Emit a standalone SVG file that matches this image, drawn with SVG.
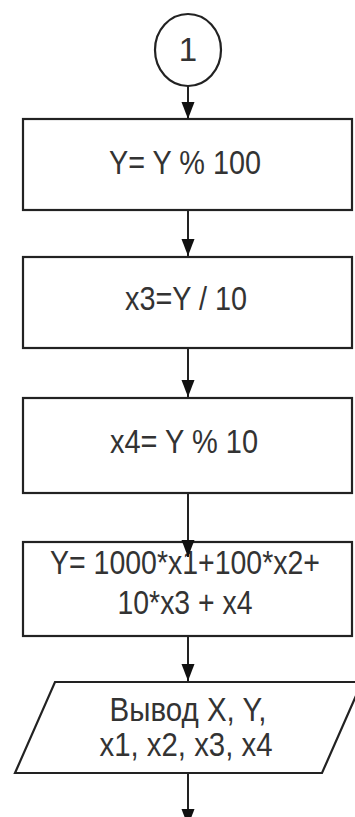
<svg xmlns="http://www.w3.org/2000/svg" width="355" height="817" viewBox="0 0 355 817">
<style>
.shape{fill:#fff;stroke:#222;stroke-width:2.2}
.conn{fill:none;stroke:#222;stroke-width:2}
text{font-family:"Liberation Sans",Arial,sans-serif;font-size:33px;fill:#333;text-anchor:middle}
</style>
<defs>
<marker id="arr" markerUnits="userSpaceOnUse" markerWidth="17" markerHeight="14" refX="17" refY="7" orient="auto">
<path d="M0,0.5 L17,7 L0,13.5 z" fill="#111"/>
</marker>
</defs>
<rect width="355" height="817" fill="#fff"/>
<g id="n0">
<ellipse class="shape" cx="188" cy="50" rx="33" ry="36"/>
<text x="188" y="61" font-size="34">1</text>
</g>
<g id="n1">
<rect class="shape" x="23" y="119" width="329" height="91"/>
<text x="185" y="174" font-size="34" textLength="152" lengthAdjust="spacingAndGlyphs">Y= Y % 100</text>
</g>
<g id="n2">
<rect class="shape" x="23" y="257" width="329" height="91"/>
<text x="186" y="310" textLength="122" lengthAdjust="spacingAndGlyphs">x3=Y / 10</text>
</g>
<g id="n3">
<rect class="shape" x="23" y="398" width="329" height="95"/>
<text x="184" y="453" textLength="148" lengthAdjust="spacingAndGlyphs">x4= Y % 10</text>
</g>
<g id="n4">
<rect class="shape" x="23" y="542" width="329" height="94"/>
<text x="185" y="574" textLength="270" lengthAdjust="spacingAndGlyphs">Y= 1000*x1+100*x2+</text>
<text x="185" y="614" textLength="135" lengthAdjust="spacingAndGlyphs">10*x3 + x4</text>
</g>
<g id="n5">
<polygon class="shape" points="55,682 362,682 322,773 15,773"/>
<text x="188" y="721" font-size="30" textLength="157" lengthAdjust="spacingAndGlyphs">Вывод X, Y,</text>
<text x="186" y="756" font-size="30" textLength="173" lengthAdjust="spacingAndGlyphs">x1, x2, x3, x4</text>
</g>
<g id="connectors">
<line class="conn" x1="188" y1="86" x2="188" y2="119" marker-end="url(#arr)"/>
<line class="conn" x1="188" y1="210" x2="188" y2="256" marker-end="url(#arr)"/>
<line class="conn" x1="188" y1="348" x2="188" y2="397" marker-end="url(#arr)"/>
<line class="conn" x1="188" y1="493" x2="188" y2="557" marker-end="url(#arr)"/>
<line class="conn" x1="188" y1="636" x2="188" y2="681" marker-end="url(#arr)"/>
<line class="conn" x1="188" y1="773" x2="188" y2="826" marker-end="url(#arr)"/>
</g>
</svg>
